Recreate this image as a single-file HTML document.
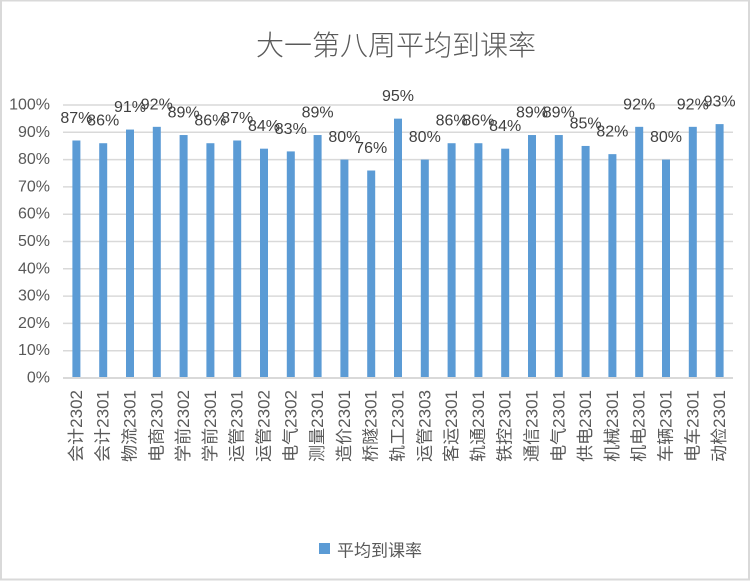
<!DOCTYPE html>
<html><head><meta charset="utf-8">
<style>
html,body{margin:0;padding:0;background:#fff;}
svg{display:block;}
text{font-family:"Liberation Sans","Noto Sans CJK SC",sans-serif;}
</style></head><body>
<svg width="751" height="581" viewBox="0 0 751 581" xmlns="http://www.w3.org/2000/svg">
<rect x="0" y="0" width="751" height="581" fill="#fff"/>
<rect x="1" y="0.5" width="748" height="579" fill="none" stroke="#d9d9d9" stroke-width="2"/>
<text x="396" y="55" text-anchor="middle" font-size="28" fill="#595959" font-weight="300" style="font-family:'Noto Sans CJK SC',sans-serif">大一第八周平均到课率</text>
<g stroke="#d9d9d9" stroke-width="1.5">
<line x1="63" x2="733" y1="105" y2="105"/>
<line x1="63" x2="733" y1="132.3" y2="132.3"/>
<line x1="63" x2="733" y1="159.6" y2="159.6"/>
<line x1="63" x2="733" y1="186.9" y2="186.9"/>
<line x1="63" x2="733" y1="214.2" y2="214.2"/>
<line x1="63" x2="733" y1="241.5" y2="241.5"/>
<line x1="63" x2="733" y1="268.8" y2="268.8"/>
<line x1="63" x2="733" y1="296.1" y2="296.1"/>
<line x1="63" x2="733" y1="323.4" y2="323.4"/>
<line x1="63" x2="733" y1="350.7" y2="350.7"/>
</g>
<g font-size="16" fill="#595959" text-anchor="end" dominant-baseline="central">
<text x="50" y="105">100%</text>
<text x="50" y="132.3">90%</text>
<text x="50" y="159.6">80%</text>
<text x="50" y="186.9">70%</text>
<text x="50" y="214.2">60%</text>
<text x="50" y="241.5">50%</text>
<text x="50" y="268.8">40%</text>
<text x="50" y="296.1">30%</text>
<text x="50" y="323.4">20%</text>
<text x="50" y="350.7">10%</text>
<text x="50" y="378">0%</text>
</g>
<g fill="#5b9bd5">
<rect x="72.4" y="140.49" width="8" height="237.51"/>
<rect x="99.2" y="143.22" width="8" height="234.78"/>
<rect x="126" y="129.57" width="8" height="248.43"/>
<rect x="152.8" y="126.84" width="8" height="251.16"/>
<rect x="179.6" y="135.03" width="8" height="242.97"/>
<rect x="206.4" y="143.22" width="8" height="234.78"/>
<rect x="233.2" y="140.49" width="8" height="237.51"/>
<rect x="260" y="148.68" width="8" height="229.32"/>
<rect x="286.8" y="151.41" width="8" height="226.59"/>
<rect x="313.6" y="135.03" width="8" height="242.97"/>
<rect x="340.4" y="159.6" width="8" height="218.4"/>
<rect x="367.2" y="170.52" width="8" height="207.48"/>
<rect x="394" y="118.65" width="8" height="259.35"/>
<rect x="420.8" y="159.6" width="8" height="218.4"/>
<rect x="447.6" y="143.22" width="8" height="234.78"/>
<rect x="474.4" y="143.22" width="8" height="234.78"/>
<rect x="501.2" y="148.68" width="8" height="229.32"/>
<rect x="528" y="135.03" width="8" height="242.97"/>
<rect x="554.8" y="135.03" width="8" height="242.97"/>
<rect x="581.6" y="145.95" width="8" height="232.05"/>
<rect x="608.4" y="154.14" width="8" height="223.86"/>
<rect x="635.2" y="126.84" width="8" height="251.16"/>
<rect x="662" y="159.6" width="8" height="218.4"/>
<rect x="688.8" y="126.84" width="8" height="251.16"/>
<rect x="715.6" y="124.11" width="8" height="253.89"/>
</g>
<g font-size="16" fill="#404040" text-anchor="middle" dominant-baseline="central">
<text x="76.4" y="118.49">87%</text>
<text x="103.2" y="121.22">86%</text>
<text x="130" y="107.57">91%</text>
<text x="156.8" y="104.84">92%</text>
<text x="183.6" y="113.03">89%</text>
<text x="210.4" y="121.22">86%</text>
<text x="237.2" y="118.49">87%</text>
<text x="264" y="126.68">84%</text>
<text x="290.8" y="129.41">83%</text>
<text x="317.6" y="113.03">89%</text>
<text x="344.4" y="137.6">80%</text>
<text x="371.2" y="148.52">76%</text>
<text x="398" y="96.65">95%</text>
<text x="424.8" y="137.6">80%</text>
<text x="451.6" y="121.22">86%</text>
<text x="478.4" y="121.22">86%</text>
<text x="505.2" y="126.68">84%</text>
<text x="532" y="113.03">89%</text>
<text x="558.8" y="113.03">89%</text>
<text x="585.6" y="123.95">85%</text>
<text x="612.4" y="132.14">82%</text>
<text x="639.2" y="104.84">92%</text>
<text x="666" y="137.6">80%</text>
<text x="692.8" y="104.84">92%</text>
<text x="719.6" y="102.11">93%</text>
</g>
<line x1="63" x2="733" y1="378" y2="378" stroke="#d9d9d9" stroke-width="2"/>
<g font-size="17" fill="#595959" text-anchor="end" dominant-baseline="central">
<text x="76.4" y="390" transform="rotate(-90 76.4 390)">会计2302</text>
<text x="103.2" y="390" transform="rotate(-90 103.2 390)">会计2301</text>
<text x="130" y="390" transform="rotate(-90 130 390)">物流2301</text>
<text x="156.8" y="390" transform="rotate(-90 156.8 390)">电商2301</text>
<text x="183.6" y="390" transform="rotate(-90 183.6 390)">学前2302</text>
<text x="210.4" y="390" transform="rotate(-90 210.4 390)">学前2301</text>
<text x="237.2" y="390" transform="rotate(-90 237.2 390)">运管2301</text>
<text x="264" y="390" transform="rotate(-90 264 390)">运管2302</text>
<text x="290.8" y="390" transform="rotate(-90 290.8 390)">电气2302</text>
<text x="317.6" y="390" transform="rotate(-90 317.6 390)">测量2301</text>
<text x="344.4" y="390" transform="rotate(-90 344.4 390)">造价2301</text>
<text x="371.2" y="390" transform="rotate(-90 371.2 390)">桥隧2301</text>
<text x="398" y="390" transform="rotate(-90 398 390)">轨工2301</text>
<text x="424.8" y="390" transform="rotate(-90 424.8 390)">运管2303</text>
<text x="451.6" y="390" transform="rotate(-90 451.6 390)">客运2301</text>
<text x="478.4" y="390" transform="rotate(-90 478.4 390)">轨通2301</text>
<text x="505.2" y="390" transform="rotate(-90 505.2 390)">铁控2301</text>
<text x="532" y="390" transform="rotate(-90 532 390)">通信2301</text>
<text x="558.8" y="390" transform="rotate(-90 558.8 390)">电气2301</text>
<text x="585.6" y="390" transform="rotate(-90 585.6 390)">供电2301</text>
<text x="612.4" y="390" transform="rotate(-90 612.4 390)">机械2301</text>
<text x="639.2" y="390" transform="rotate(-90 639.2 390)">机电2301</text>
<text x="666" y="390" transform="rotate(-90 666 390)">车辆2301</text>
<text x="692.8" y="390" transform="rotate(-90 692.8 390)">电车2301</text>
<text x="719.6" y="390" transform="rotate(-90 719.6 390)">动检2301</text>
</g>
<rect x="319" y="543" width="11" height="11" fill="#5b9bd5"/>
<text x="337" y="549" font-size="17" fill="#595959" dominant-baseline="central" style="font-family:'Noto Sans CJK SC',sans-serif">平均到课率</text>
</svg>
</body></html>
